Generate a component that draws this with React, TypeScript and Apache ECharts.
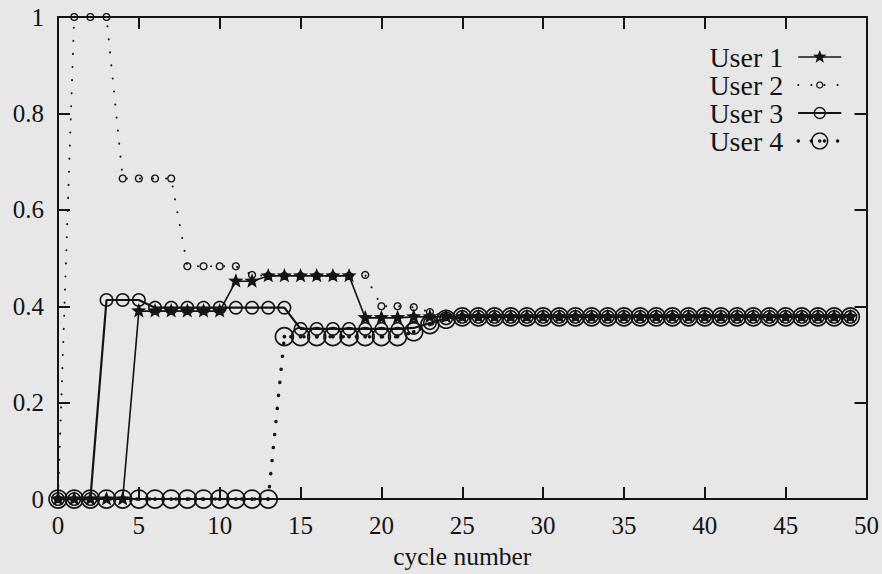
import React, { useEffect, useRef } from "react";
import * as echarts from "echarts";

const cycles = [
  0, 1, 2, 3, 4, 5, 6, 7, 8, 9, 10, 11, 12, 13, 14, 15, 16, 17, 18, 19, 20, 21, 22, 23, 24,
  25, 26, 27, 28, 29, 30, 31, 32, 33, 34, 35, 36, 37, 38, 39, 40, 41, 42, 43, 44, 45, 46, 47, 48, 49,
];

const user1 = [
  0, 0, 0, 0, 0, 0.39, 0.39, 0.39, 0.39, 0.39, 0.39, 0.452, 0.452, 0.463, 0.463, 0.463, 0.463, 0.463, 0.463,
  0.376, 0.376, 0.376, 0.378, 0.378, 0.378, 0.378, 0.378, 0.378, 0.378, 0.378, 0.378, 0.378, 0.378, 0.378,
  0.378, 0.378, 0.378, 0.378, 0.378, 0.378, 0.378, 0.378, 0.378, 0.378, 0.378, 0.378, 0.378, 0.378, 0.378, 0.378,
];

const user2 = [
  0, 1, 1, 1, 0.665, 0.665, 0.665, 0.665, 0.483, 0.483, 0.483, 0.483, 0.465, 0.463, 0.463, 0.463, 0.463, 0.463,
  0.463, 0.465, 0.4, 0.4, 0.398, 0.388, 0.378, 0.378, 0.378, 0.378, 0.378, 0.378, 0.378, 0.378, 0.378, 0.378,
  0.378, 0.378, 0.378, 0.378, 0.378, 0.378, 0.378, 0.378, 0.378, 0.378, 0.378, 0.378, 0.378, 0.378, 0.378, 0.378,
];

const user3 = [
  0, 0, 0, 0.413, 0.413, 0.413, 0.397, 0.397, 0.397, 0.397, 0.397, 0.397, 0.397, 0.397, 0.397, 0.353, 0.353,
  0.353, 0.353, 0.353, 0.353, 0.353, 0.355, 0.365, 0.375, 0.378, 0.378, 0.378, 0.378, 0.378, 0.378, 0.378, 0.378,
  0.378, 0.378, 0.378, 0.378, 0.378, 0.378, 0.378, 0.378, 0.378, 0.378, 0.378, 0.378, 0.378, 0.378, 0.378, 0.378, 0.378,
];

const user4 = [
  0, 0, 0, 0, 0, 0, 0, 0, 0, 0, 0, 0, 0, 0, 0.337, 0.337, 0.337, 0.337, 0.337, 0.337, 0.337, 0.337, 0.347,
  0.362, 0.373, 0.378, 0.378, 0.378, 0.378, 0.378, 0.378, 0.378, 0.378, 0.378, 0.378, 0.378, 0.378, 0.378, 0.378,
  0.378, 0.378, 0.378, 0.378, 0.378, 0.378, 0.378, 0.378, 0.378, 0.378, 0.378,
];

const seriesNames = ["User 1", "User 2", "User 3", "User 4"];

const INK = "#141414";
const FONT = "Liberation Serif";

// every marker shape shares a 20x20 box so that chart and legend keep relative sizes
const BOX = "M-10,-10L-10,-10ZM10,10L10,10Z";

function circ(r: number, cw: boolean): string {
  const n = 32;
  let d = "";
  for (let i = 0; i <= n; i++) {
    const a = ((cw ? i : -i) / n) * Math.PI * 2;
    const x = (r * Math.cos(a)).toFixed(3);
    const y = (r * Math.sin(a)).toFixed(3);
    d += (i === 0 ? "M" : "L") + x + "," + y;
  }
  return d + "Z";
}

function star(R: number, r: number): string {
  let d = "";
  for (let i = 0; i < 10; i++) {
    const a = -Math.PI / 2 + (i * Math.PI) / 5;
    const rad = i % 2 === 0 ? R : r;
    d += (i === 0 ? "M" : "L") + (rad * Math.cos(a)).toFixed(3) + "," + (rad * Math.sin(a)).toFixed(3);
  }
  return d + "Z";
}

const starSym = "path://" + BOX + star(8, 3.4);
const smallRing = "path://" + BOX + circ(4.1, true) + circ(2.7, false);
const midRing = "path://" + BOX + circ(7, true) + circ(5.4, false);
const bigRingDot = "path://" + BOX + circ(9.8, true) + circ(8.1, false) + circ(1.9, true);

function pairs(ys: number[]) {
  return cycles.map((c, i) => [c, ys[i]]);
}

export default function App() {
  const ref = useRef<HTMLDivElement>(null);
  useEffect(() => {
    if (!ref.current) return;
    const chart = echarts.init(ref.current, null, { renderer: "svg" });
    const axisLine = { show: true, onZero: false, lineStyle: { color: INK, width: 2 } };
    const axisTick = { show: true, inside: true, length: 12, lineStyle: { color: INK, width: 2 } };
    const label = { fontFamily: FONT, fontSize: 25, color: INK };
    const widths = [1.6, 2, 2.2, 3.5];
    chart.setOption({
      animation: false,
      backgroundColor: "#e7e7e7",
      grid: { left: 58, right: 15, top: 17, bottom: 73, containLabel: false },
      legend: {
        orient: "vertical",
        right: 34,
        top: 38,
        align: "right",
        itemWidth: 43,
        itemHeight: 22,
        itemGap: 0,
        selectedMode: false,
        textStyle: { fontFamily: FONT, fontSize: 28, color: INK, padding: [0, 10, 0, 0] },
        data: seriesNames.map((n, i) => ({ name: n, lineStyle: { width: widths[i] } })),
      },
      xAxis: [
        {
          type: "value",
          min: 0,
          max: 50,
          interval: 5,
          position: "bottom",
          axisLine,
          axisTick,
          splitLine: { show: false },
          axisLabel: { ...label, margin: 14 },
          name: "cycle number",
          nameLocation: "middle",
          nameGap: 30,
          nameTextStyle: { fontFamily: FONT, fontSize: 25.5, color: INK },
        },
        {
          type: "value",
          min: 0,
          max: 50,
          interval: 5,
          position: "top",
          axisLine,
          axisTick,
          splitLine: { show: false },
          axisLabel: { show: false },
        },
      ],
      yAxis: [
        {
          type: "value",
          min: 0,
          max: 1,
          interval: 0.2,
          position: "left",
          axisLine,
          axisTick,
          splitLine: { show: false },
          axisLabel: { ...label, margin: 14 },
        },
        {
          type: "value",
          min: 0,
          max: 1,
          interval: 0.2,
          position: "right",
          axisLine,
          axisTick,
          splitLine: { show: false },
          axisLabel: { show: false },
        },
      ],
      series: [
        {
          name: seriesNames[0],
          type: "line",
          z: 6,
          clip: false,
          data: pairs(user1),
          symbol: starSym,
          symbolSize: 20,
          itemStyle: { color: INK, borderWidth: 0 },
          lineStyle: { color: INK, width: widths[0] },
        },
        {
          name: seriesNames[1],
          type: "line",
          z: 3,
          clip: false,
          data: pairs(user2),
          symbol: smallRing,
          symbolSize: 20,
          itemStyle: { color: INK, borderWidth: 0 },
          lineStyle: { color: INK, width: widths[1], type: [0.1, 13], cap: "round" },
        },
        {
          name: seriesNames[2],
          type: "line",
          z: 5,
          clip: false,
          data: pairs(user3),
          symbol: midRing,
          symbolSize: 20,
          itemStyle: { color: INK, borderWidth: 0 },
          lineStyle: { color: INK, width: widths[2] },
        },
        {
          name: seriesNames[3],
          type: "line",
          z: 4,
          clip: false,
          data: pairs(user4),
          symbol: bigRingDot,
          symbolSize: 20,
          itemStyle: { color: INK, borderWidth: 0 },
          lineStyle: { color: INK, width: widths[3], type: [0.1, 13], cap: "round" },
        },
      ],
    });
    return () => chart.dispose();
  }, []);
  return (
    <div
      ref={ref}
      style={{ position: "fixed", left: 0, top: 0, width: 882, height: 574 }}
    />
  );
}
